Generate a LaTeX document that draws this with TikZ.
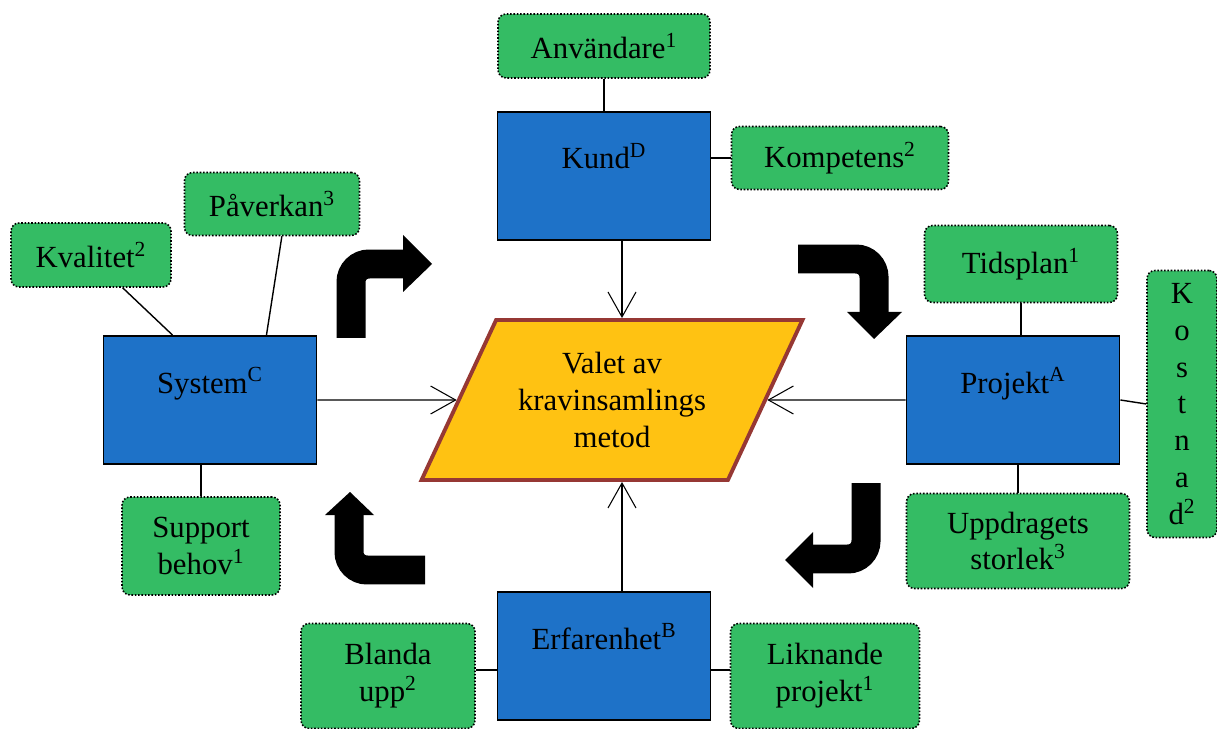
\documentclass[tikz,border=0pt]{standalone}
\usepackage{fontspec}
\setmainfont{Liberation Serif}
\usepackage{xcolor}
\usepackage{tikz}
\usetikzlibrary{shapes.geometric, arrows.meta, positioning}

\definecolor{boxblue}{RGB}{30,114,200}
\definecolor{boxgreen}{RGB}{52,188,100}
\definecolor{valetyellow}{RGB}{255,194,18}
\definecolor{valetborder}{RGB}{150,56,52}

\begin{document}
\begin{tikzpicture}[x=0.02cm, y=-0.02cm, every node/.style={font={\fontsize{17.5}{21}\selectfont}}]

		\tikzstyle{mainbox}=[rectangle, draw=black, line width=1.1pt, fill=boxblue, minimum width=4.26cm, minimum height=2.56cm, text height=0.46cm, text depth=0.74cm, inner sep=0pt]
		\tikzstyle{subbox}=[rectangle, rounded corners=0.16cm, draw=black, densely dotted, line width=0.9pt, fill=boxgreen, align=center, inner sep=0pt]
		\tikzstyle{valetbox}=[trapezium, trapezium left angle=52, trapezium right angle=128, trapezium stretches body, minimum width=7.62cm, minimum height=3.2cm, draw=valetborder, line width=2.2pt, fill=valetyellow, align=center, inner sep=0pt]
		\tikzstyle{joinline}=[line width=0.8pt]
		\tikzstyle{inarrow}=[line width=0.6pt, -{Straight Barb[length=0.5cm, width=0.56cm]}]
		\tikzstyle{turnarrow}=[line width=0.58cm, rounded corners=0.36cm]

		\useasboundingbox (0,0) rectangle (1217,729);

		%% centre
		\node (valet) at (612,400) [valetbox] {Valet av\\kravinsamlings\\metod};

		%% main factors
		\node (kund) at (604,176) [mainbox] {Kund\textsuperscript{D}};
		\node (sys) at (210,400) [mainbox] {System\textsuperscript{C}};
		\node (proj) at (1013,400) [mainbox] {Projekt\textsuperscript{A}};
		\node (erf) at (604,656) [mainbox] {Erfarenhet\textsuperscript{B}};

		%% sub factors
		\node (anv) at (604,46) [subbox, minimum width=4.24cm, minimum height=1.28cm] {Användare\textsuperscript{1}};
		\node (komp) at (840,158) [subbox, minimum width=4.34cm, minimum height=1.26cm] {Kompetens\textsuperscript{2}};
		\node (kval) at (91,255) [subbox, minimum width=3.2cm, minimum height=1.28cm] {Kvalitet\textsuperscript{2}};
		\node (pav) at (272,204) [subbox, minimum width=3.5cm, minimum height=1.26cm] {Påverkan\textsuperscript{3}};
		\node (supp) at (201,546) [subbox, minimum width=3.16cm, minimum height=1.96cm] {Support\\behov\textsuperscript{1}};
		\node (tids) at (1021,264) [subbox, minimum width=3.86cm, minimum height=1.54cm] {Tidsplan\textsuperscript{1}};
		\node (kost) at (1182,404) [subbox, minimum width=1.4cm, minimum height=5.34cm] {K\\o\\s\\t\\n\\a\\d\textsuperscript{2}};
		\node (uppd) at (1018,541) [subbox, minimum width=4.46cm, minimum height=1.9cm] {Uppdragets\\storlek\textsuperscript{3}};
		\node (bland) at (388,676) [subbox, minimum width=3.48cm, minimum height=2.1cm] {Blanda\\upp\textsuperscript{2}};
		\node (likn) at (825,676) [subbox, minimum width=3.78cm, minimum height=2.1cm] {Liknande\\projekt\textsuperscript{1}};

		%% plain links
		\draw [joinline] (anv) -- (kund);
		\draw [joinline] (komp.west) -- (komp.west -| kund.east);
		\draw [joinline] (kval.-46) -- (sys.120);
		\draw [joinline] (pav.-73) -- (sys.49);
		\draw [joinline] (supp.north) -- (supp.north |- sys.south);
		\draw [joinline] (tids.south) -- (tids.south |- proj.north);
		\draw [joinline] (proj.east) -- (kost.west);
		\draw [joinline] (uppd.north) -- (uppd.north |- proj.south);
		\draw [joinline] ([yshift=0.12cm]bland.east) -- ([yshift=0.12cm]bland.east -| erf.west);
		\draw [joinline] ([yshift=0.12cm]likn.west) -- ([yshift=0.12cm]likn.west -| erf.east);

		%% arrows into the centre
		\draw [inarrow] ([xshift=0.36cm]kund.south) -- ([xshift=0.36cm]kund.south |- valet.north);
		\draw [inarrow] ([xshift=0.36cm]erf.north) -- ([xshift=0.36cm]erf.north |- valet.south);
		\draw [inarrow] (sys) -- (valet);
		\draw [inarrow] (proj) -- (valet);

		%% turning arrows
		\draw [turnarrow] (351,338) -- (351,264) -- (404,264);
		\fill (403,235) -- (432,264) -- (403,292) -- cycle;

		\draw [turnarrow] (798,259) -- (874,259) -- (874,313);
		\fill (847,312) -- (874,339) -- (902,312) -- cycle;

		\draw [turnarrow] (866,483) -- (866,559) -- (812,559);
		\fill (813,532) -- (785,560) -- (813,588) -- cycle;

		\draw [turnarrow] (425,570) -- (349,570) -- (349,514);
		\fill (325,515) -- (350,492) -- (374,515) -- cycle;

\end{tikzpicture}
\end{document}
